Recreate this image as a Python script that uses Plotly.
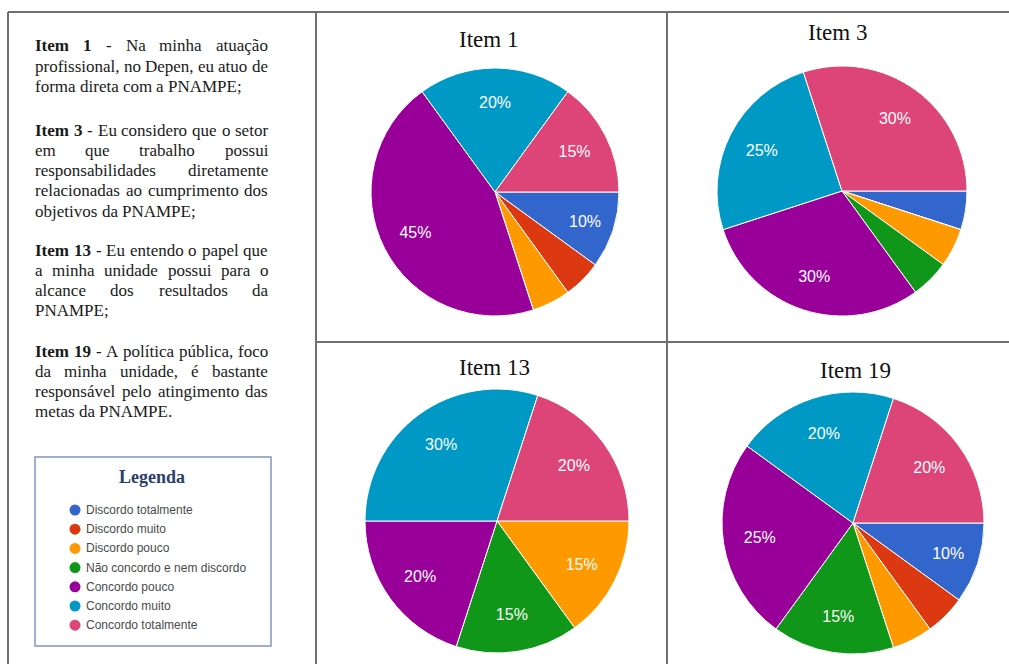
import plotly.graph_objects as go

# ---- data -------------------------------------------------------------
categories = ["Discordo totalmente", "Discordo muito", "Discordo pouco",
              "Não concordo e nem discordo", "Concordo pouco", "Concordo muito",
              "Concordo totalmente"]
colors = ["#3366cc", "#dc3912", "#ff9900", "#109618", "#990099", "#0099c6", "#dd4477"]

item_titles = ["Item 1", "Item 3", "Item 13", "Item 19"]
item1 = [10, 5, 5, 0, 45, 20, 15]
item3 = [5, 0, 5, 5, 30, 25, 30]
item13 = [0, 0, 15, 15, 20, 30, 20]
item19 = [10, 5, 5, 15, 25, 20, 20]

paragraphs = [
    ["Item 1 - Na minha atuação",
     "profissional, no Depen, eu atuo de",
     "forma direta com a PNAMPE;"],
    ["Item 3 - Eu considero que o setor",
     "em que trabalho possui",
     "responsabilidades diretamente",
     "relacionadas ao cumprimento dos",
     "objetivos da PNAMPE;"],
    ["Item 13 - Eu entendo o papel que",
     "a minha unidade possui para o",
     "alcance dos resultados da",
     "PNAMPE;"],
    ["Item 19 - A política pública, foco",
     "da minha unidade, é bastante",
     "responsável pelo atingimento das",
     "metas da PNAMPE."],
]
legend_title = "Legenda"

# ---- page geometry ----------------------------------------------------
W, H = 1009, 664
SERIF = "Liberation Serif, Times New Roman, serif"
SANS = "Liberation Sans, Arial, sans-serif"


def fx(x):
    return x / W


def fy(y):
    return 1 - y / H


# Times-compatible advance widths (1/1000 em) for the paragraph layout
REG = dict(zip("abcdefghijklmnopqrstuvwxyz",
               [444, 500, 444, 500, 444, 333, 500, 500, 278, 278, 500, 278, 778,
                500, 500, 500, 500, 333, 389, 278, 500, 500, 722, 500, 500, 444]))
REG.update(dict(zip("ABCDEFGHIJKLMNOPQRSTUVWXYZ",
                    [722, 667, 667, 722, 611, 556, 722, 722, 333, 389, 722, 611, 889,
                     722, 722, 556, 722, 667, 556, 611, 722, 722, 944, 722, 722, 611])))
REG.update({c: 500 for c in "0123456789"})
REG.update({" ": 250, ",": 250, ".": 250, ";": 278, "-": 333,
            "ã": 444, "ç": 444, "é": 444, "á": 444, "ú": 500, "í": 278})
BOLD = dict(REG)
BOLD.update({"I": 389, "t": 333, "m": 833})


def word_width(word, size, bold=False):
    table = BOLD if bold else REG
    return sum(table.get(c, 500) for c in word) * size / 1000.0


annotations = []
shapes = []

# ---- left column: item descriptions (justified) ------------------------
TXT_SIZE = 17
X0, X1 = 35, 268
para_top = [46, 130, 250, 351]
LINE_STEP = 20.3
for p, lines in enumerate(paragraphs):
    for li, line in enumerate(lines):
        y = para_top[p] + li * LINE_STEP
        words = line.split(" ")
        bold_flags = [(p >= 0 and li == 0 and wi < 2) for wi in range(len(words))]
        widths = [word_width(w, TXT_SIZE, b) for w, b in zip(words, bold_flags)]
        last = li == len(lines) - 1
        if last or len(words) == 1:
            gap = 250 * TXT_SIZE / 1000.0
        else:
            gap = (X1 - X0 - sum(widths)) / (len(words) - 1)
        x = X0
        for w, b, wd in zip(words, bold_flags, widths):
            annotations.append(dict(
                x=fx(x), y=fy(y), xref="paper", yref="paper",
                xanchor="left", yanchor="middle", showarrow=False,
                text=f"<b>{w}</b>" if b else w, borderpad=0, borderwidth=0,
                font=dict(family=SERIF, size=TXT_SIZE, color="#1a1a1a")))
            x += wd + gap

# ---- legend box -------------------------------------------------------
shapes.append(dict(type="rect", xref="paper", yref="paper",
                   x0=fx(35), x1=fx(271), y0=fy(646), y1=fy(457),
                   line=dict(color="#7f95c4", width=1.5), fillcolor="rgba(0,0,0,0)"))
annotations.append(dict(x=fx(152), y=fy(477), xref="paper", yref="paper",
                        showarrow=False, text=f"<b>{legend_title}</b>",
                        xanchor="center", yanchor="middle",
                        font=dict(family=SERIF, size=18, color="#2c3f6c")))
for i, (cat, col) in enumerate(zip(categories, colors)):
    cy = 510 + i * 19.2
    shapes.append(dict(type="circle", xref="paper", yref="paper",
                       x0=fx(75 - 5.5), x1=fx(75 + 5.5), y0=fy(cy + 5.5), y1=fy(cy - 5.5),
                       fillcolor=col, line=dict(width=0)))
    annotations.append(dict(x=fx(86), y=fy(cy), xref="paper", yref="paper",
                            showarrow=False, text=cat, xanchor="left", yanchor="middle",
                            borderpad=0, borderwidth=0,
                            font=dict(family=SANS, size=12, color="#4a4a4a")))

# ---- table rules ------------------------------------------------------
RULE = dict(color="#6f6f6f", width=2)
for x0, y0, x1, y1 in [(8, 12, W, 12), (8, 12, 8, H), (316, 12, 316, H),
                       (667, 12, 667, H), (316, 342, W, 342)]:
    shapes.append(dict(type="line", xref="paper", yref="paper",
                       x0=fx(x0), y0=fy(y0), x1=fx(x1), y1=fy(y1), line=RULE))

# ---- pies -------------------------------------------------------------
fig = go.Figure()
pie_series = [item1, item3, item13, item19]
pie_geom = [(495, 192, 124), (842, 191, 125), (497, 521, 132), (853, 523, 131)]
title_pos = [(488, 40), (837, 32), (494, 367), (855, 370)]

for values, (cx, cy, r), title, (tx, ty) in zip(pie_series, pie_geom, item_titles, title_pos):
    dom = dict(x=[fx(cx - r), fx(cx + r)], y=[fy(cy + r), fy(cy - r)])
    fig.add_trace(go.Pie(
        labels=categories, values=values, sort=False, direction="clockwise",
        rotation=90, domain=dom, textinfo="none", showlegend=False,
        marker=dict(colors=colors, line=dict(color="white", width=1)),
        name=title))
    # percentage labels, set on a ring so they sit out toward the rim
    fig.add_trace(go.Pie(
        labels=categories, values=values, sort=False, direction="clockwise",
        rotation=90, domain=dom, hole=0.44, showlegend=False,
        text=[f"{v}%" if v >= 10 else "" for v in values],
        textinfo="text", textposition="inside", insidetextorientation="horizontal",
        insidetextfont=dict(family=SANS, size=16, color="white"),
        marker=dict(colors=["rgba(0,0,0,0)"] * len(values), line=dict(width=0)),
        hoverinfo="skip", name=title))
    annotations.append(dict(x=fx(tx), y=fy(ty), xref="paper", yref="paper",
                            showarrow=False, text=title, xanchor="center", yanchor="middle",
                            font=dict(family=SERIF, size=23, color="#111111")))

fig.update_layout(
    width=W, height=H, margin=dict(l=0, r=0, t=0, b=0),
    paper_bgcolor="white", plot_bgcolor="white",
    shapes=shapes, annotations=annotations,
)
fig.write_html("out.html")
